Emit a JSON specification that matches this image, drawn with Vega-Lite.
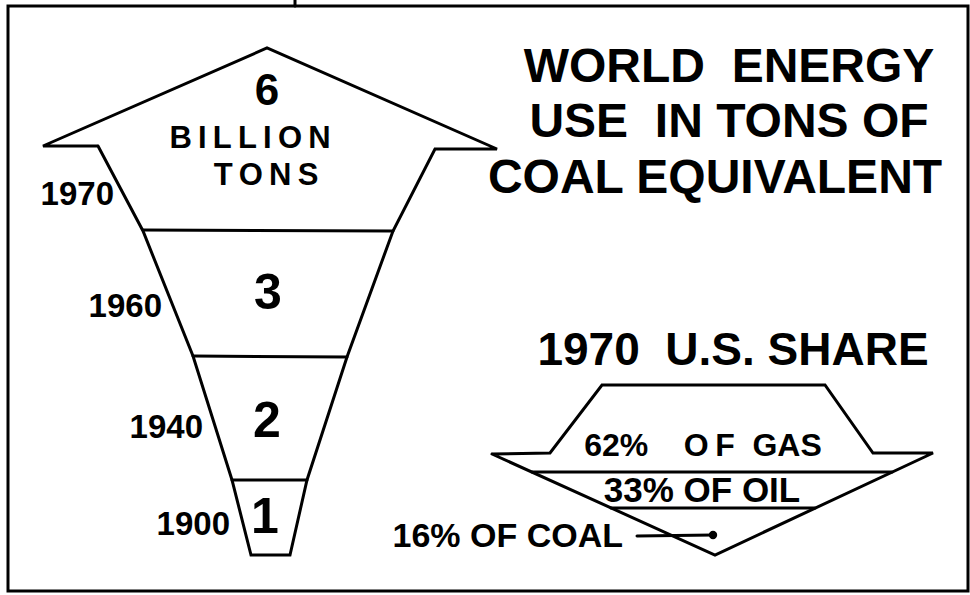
{
  "$schema": "https://vega.github.io/schema/vega-lite/v6.json",
  "width": 970,
  "height": 595,
  "autosize": {"type": "none"},
  "padding": 0,
  "background": "white",
  "config": {"view": {"stroke": null}, "font": "Liberation Sans"},
  "datasets": {
    "frame": [{"x": 8, "y": 6, "x2": 968, "y2": 591}],
    "outlines": [
      {"shape": "world", "i": 0, "x": 98, "y": 146},
      {"shape": "world", "i": 1, "x": 43, "y": 146},
      {"shape": "world", "i": 2, "x": 267, "y": 48},
      {"shape": "world", "i": 3, "x": 497, "y": 149},
      {"shape": "world", "i": 4, "x": 435, "y": 149},
      {"shape": "world", "i": 5, "x": 393, "y": 231},
      {"shape": "world", "i": 6, "x": 347, "y": 357},
      {"shape": "world", "i": 7, "x": 307, "y": 480},
      {"shape": "world", "i": 8, "x": 290, "y": 555},
      {"shape": "world", "i": 9, "x": 251, "y": 555},
      {"shape": "world", "i": 10, "x": 232, "y": 480},
      {"shape": "world", "i": 11, "x": 193, "y": 356},
      {"shape": "world", "i": 12, "x": 143, "y": 231},
      {"shape": "world", "i": 13, "x": 98, "y": 146},
      {"shape": "b1970", "i": 0, "x": 143, "y": 230},
      {"shape": "b1970", "i": 1, "x": 393, "y": 231},
      {"shape": "b1960", "i": 0, "x": 193, "y": 356},
      {"shape": "b1960", "i": 1, "x": 347, "y": 357},
      {"shape": "b1940", "i": 0, "x": 232, "y": 480},
      {"shape": "b1940", "i": 1, "x": 307, "y": 480},
      {"shape": "us", "i": 0, "x": 492, "y": 454},
      {"shape": "us", "i": 1, "x": 550, "y": 453},
      {"shape": "us", "i": 2, "x": 602, "y": 385},
      {"shape": "us", "i": 3, "x": 825, "y": 385},
      {"shape": "us", "i": 4, "x": 873, "y": 453},
      {"shape": "us", "i": 5, "x": 933, "y": 453},
      {"shape": "us", "i": 6, "x": 715, "y": 555},
      {"shape": "us", "i": 7, "x": 492, "y": 454},
      {"shape": "gas", "i": 0, "x": 532, "y": 472},
      {"shape": "gas", "i": 1, "x": 892, "y": 472},
      {"shape": "oil", "i": 0, "x": 611, "y": 508},
      {"shape": "oil", "i": 1, "x": 815, "y": 508},
      {"shape": "leader", "i": 0, "x": 637, "y": 536},
      {"shape": "leader", "i": 1, "x": 713, "y": 535},
      {"shape": "tick", "i": 0, "x": 295, "y": 0},
      {"shape": "tick", "i": 1, "x": 295, "y": 6}
    ],
    "dot": [{"x": 713, "y": 535}],
    "title": [
      {"t": "WORLD\u00a0\u00a0ENERGY", "x": 729, "y": 82},
      {"t": "USE\u00a0\u00a0IN TONS OF", "x": 729, "y": 137},
      {"t": "COAL EQUIVALENT", "x": 715, "y": 193}
    ],
    "share_title": [{"t": "1970\u00a0\u00a0U.S. SHARE", "x": 733, "y": 365}],
    "six": [{"t": "6", "x": 267, "y": 105}],
    "bands": [
      {"t": "3", "x": 268, "y": 309},
      {"t": "2", "x": 267, "y": 437},
      {"t": "1", "x": 265, "y": 533}
    ],
    "unit": [
      {"t": "B\u2009I\u2009L\u2009L\u2009I\u2009O\u2009N", "x": 250, "y": 148},
      {"t": "T\u2009O\u2009N\u2009S", "x": 266, "y": 185}
    ],
    "years": [
      {"t": "1970", "x": 114, "y": 205},
      {"t": "1960", "x": 162, "y": 317},
      {"t": "1940", "x": 203, "y": 438},
      {"t": "1900", "x": 230, "y": 535}
    ],
    "gas_label": [{"t": "62%\u00a0\u00a0\u00a0\u00a0O\u2009F\u00a0\u00a0GAS", "x": 703, "y": 456}],
    "oil_label": [{"t": "33% OF OIL", "x": 702, "y": 502}],
    "coal_label": [{"t": "16% OF COAL", "x": 623, "y": 547}]
  },
  "encoding": {
    "x": {"field": "x", "type": "quantitative", "scale": {"domain": [0, 970], "nice": false, "zero": false}, "axis": null},
    "y": {"field": "y", "type": "quantitative", "scale": {"domain": [0, 595], "reverse": true, "nice": false, "zero": false}, "axis": null}
  },
  "layer": [
    {
      "data": {"name": "frame"},
      "mark": {"type": "rect", "fill": null, "stroke": "black", "strokeWidth": 3},
      "encoding": {"x2": {"field": "x2"}, "y2": {"field": "y2"}}
    },
    {
      "data": {"name": "outlines"},
      "mark": {"type": "line", "color": "black", "strokeWidth": 3, "strokeJoin": "miter", "strokeCap": "round"},
      "encoding": {
        "detail": {"field": "shape", "type": "nominal"},
        "order": {"field": "i", "type": "quantitative"}
      }
    },
    {
      "data": {"name": "dot"},
      "mark": {"type": "point", "filled": true, "color": "black", "size": 70, "opacity": 1}
    },
    {
      "data": {"name": "title"},
      "mark": {"type": "text", "fontSize": 48, "fontWeight": "bold", "align": "center", "baseline": "alphabetic", "color": "black"},
      "encoding": {"text": {"field": "t"}}
    },
    {
      "data": {"name": "share_title"},
      "mark": {"type": "text", "fontSize": 46, "fontWeight": "bold", "align": "center", "baseline": "alphabetic", "color": "black"},
      "encoding": {"text": {"field": "t"}}
    },
    {
      "data": {"name": "six"},
      "mark": {"type": "text", "fontSize": 44, "fontWeight": "bold", "align": "center", "baseline": "alphabetic", "color": "black"},
      "encoding": {"text": {"field": "t"}}
    },
    {
      "data": {"name": "bands"},
      "mark": {"type": "text", "fontSize": 50, "fontWeight": "bold", "align": "center", "baseline": "alphabetic", "color": "black"},
      "encoding": {"text": {"field": "t"}}
    },
    {
      "data": {"name": "unit"},
      "mark": {"type": "text", "fontSize": 31, "fontWeight": "bold", "align": "center", "baseline": "alphabetic", "color": "black"},
      "encoding": {"text": {"field": "t"}}
    },
    {
      "data": {"name": "years"},
      "mark": {"type": "text", "fontSize": 33, "fontWeight": "bold", "align": "right", "baseline": "alphabetic", "color": "black"},
      "encoding": {"text": {"field": "t"}}
    },
    {
      "data": {"name": "gas_label"},
      "mark": {"type": "text", "fontSize": 32, "fontWeight": "bold", "align": "center", "baseline": "alphabetic", "color": "black"},
      "encoding": {"text": {"field": "t"}}
    },
    {
      "data": {"name": "oil_label"},
      "mark": {"type": "text", "fontSize": 35, "fontWeight": "bold", "align": "center", "baseline": "alphabetic", "color": "black"},
      "encoding": {"text": {"field": "t"}}
    },
    {
      "data": {"name": "coal_label"},
      "mark": {"type": "text", "fontSize": 34, "fontWeight": "bold", "align": "right", "baseline": "alphabetic", "color": "black"},
      "encoding": {"text": {"field": "t"}}
    }
  ]
}
